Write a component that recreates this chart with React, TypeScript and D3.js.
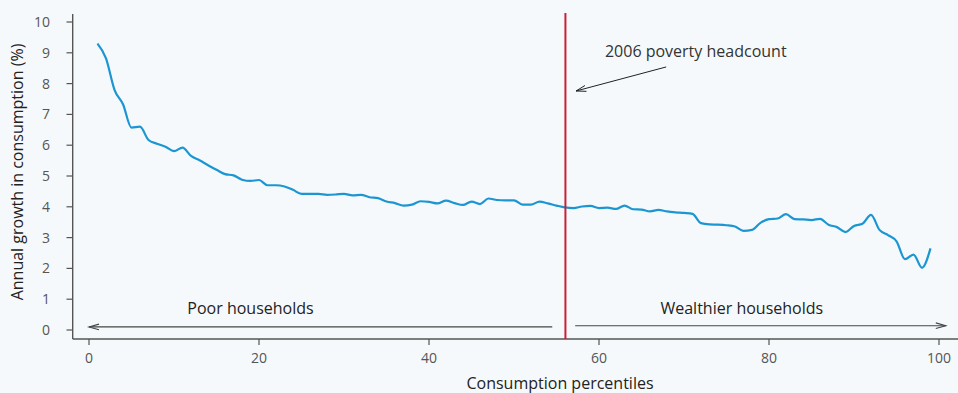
import React from "react";
import * as d3 from "d3";

const percentiles: number[] = d3.range(1, 100);
const growth: number[] = [
  9.30, 8.82, 7.80, 7.33, 6.57, 6.60, 6.17, 6.05, 5.95, 5.81,
  5.92, 5.65, 5.51, 5.35, 5.20, 5.06, 5.02, 4.88, 4.84, 4.87,
  4.70, 4.70, 4.66, 4.55, 4.42, 4.42, 4.42, 4.39, 4.40, 4.42,
  4.37, 4.39, 4.31, 4.28, 4.17, 4.12, 4.04, 4.07, 4.18, 4.16,
  4.11, 4.20, 4.12, 4.06, 4.17, 4.09, 4.27, 4.22, 4.21, 4.21,
  4.07, 4.07, 4.17, 4.11, 4.04, 3.98, 3.96, 4.01, 4.03, 3.96,
  3.97, 3.93, 4.04, 3.92, 3.91, 3.85, 3.90, 3.85, 3.82, 3.80,
  3.77, 3.47, 3.43, 3.42, 3.40, 3.36, 3.22, 3.25, 3.48, 3.60,
  3.62, 3.76, 3.60, 3.59, 3.57, 3.61, 3.42, 3.34, 3.18, 3.38,
  3.45, 3.74, 3.25, 3.08, 2.88, 2.30, 2.45, 2.02, 2.65,
];
const xTicks: number[] = [0, 20, 40, 60, 80, 100];
const yTicks: number[] = [0, 1, 2, 3, 4, 5, 6, 7, 8, 9, 10];
const povertyLine = 56.05;
const yTitle = "Annual growth in consumption (%)";
const xTitle = "Consumption percentiles";
const annotation = "2006 poverty headcount";
const leftLabel = "Poor households";
const rightLabel = "Wealthier households";

const W = 958;
const H = 393;
const FONT = "'Open Sans', 'Noto Sans', sans-serif";

function arrowHead(x1: number, y1: number, x2: number, y2: number, len = 10, half = 3) {
  const dx = x2 - x1, dy = y2 - y1;
  const L = Math.sqrt(dx * dx + dy * dy);
  const ux = dx / L, uy = dy / L;
  const bx = x2 - ux * len, by = y2 - uy * len;
  const px = -uy * half, py = ux * half;
  return `M${bx + px},${by + py}L${x2},${y2}L${bx - px},${by - py}`;
}

export default function App() {
  const x = d3.scaleLinear().domain([0, 100]).range([89, 939]);
  const y = d3.scaleLinear().domain([0, 10]).range([330, 22]);
  const axisX = 72.7;
  const axisY = 339;

  const line = d3
    .line<number>()
    .x((_, i) => x(percentiles[i]))
    .y((d) => y(d))
    .curve(d3.curveMonotoneX);

  const la = { x1: x(54.5), x2: x(0), y: y(0.1) };
  const ra = { x1: x(57.2), x2: x(100.8), y: y(0.14) };
  const an = { x1: x(67.9), y1: y(8.54), x2: x(57.3), y2: y(7.76) };

  return (
    <svg
      width={W}
      height={H}
      style={{ position: "absolute", left: 0, top: 0, background: "#f6f9fb" }}
      fontFamily={FONT}
    >
      <rect x={0} y={0} width={W} height={H} fill="#f6f9fb" />
      {/* axes */}
      <line x1={axisX} x2={axisX} y1={14} y2={axisY} stroke="#555" strokeWidth={1.4} />
      <line x1={axisX} x2={W} y1={axisY} y2={axisY} stroke="#555" strokeWidth={1.4} />
      {yTicks.map((t) => (
        <g key={"y" + t}>
          <line x1={66.5} x2={axisX} y1={y(t)} y2={y(t)} stroke="#555" strokeWidth={1.2} />
          <text x={50} y={y(t)} dy="0.36em" textAnchor="end" fontSize={14} fill="#555">
            {t}
          </text>
        </g>
      ))}
      {xTicks.map((t) => (
        <g key={"x" + t}>
          <line x1={x(t)} x2={x(t)} y1={axisY} y2={axisY + 6} stroke="#555" strokeWidth={1.2} />
          <text x={x(t)} y={363} textAnchor="middle" fontSize={14} fill="#555">
            {t}
          </text>
        </g>
      ))}
      <text
        transform={`translate(23,172) rotate(-90)`}
        textAnchor="middle"
        fontSize={16}
        fill="#222"
      >
        {yTitle}
      </text>
      <text x={560} y={389} textAnchor="middle" fontSize={16} fill="#222">
        {xTitle}
      </text>

      {/* data line */}
      <path d={line(growth) || ""} fill="none" stroke="#1b96d2" strokeWidth={2.2} strokeLinejoin="round" />

      {/* poverty line */}
      <line x1={x(povertyLine)} x2={x(povertyLine)} y1={13} y2={axisY} stroke="#c8203a" strokeWidth={2} />

      {/* household arrows */}
      <line x1={la.x1} x2={la.x2} y1={la.y} y2={la.y} stroke="#444" strokeWidth={1.1} />
      <path d={arrowHead(la.x1, la.y, la.x2, la.y, 10, 2.8)} fill="none" stroke="#444" strokeWidth={1.1} />
      <line x1={ra.x1} x2={ra.x2} y1={ra.y} y2={ra.y} stroke="#444" strokeWidth={1.1} />
      <path d={arrowHead(ra.x1, ra.y, ra.x2, ra.y, 10, 2.8)} fill="none" stroke="#444" strokeWidth={1.1} />
      <text x={x(19)} y={314} textAnchor="middle" fontSize={16} fill="#222">
        {leftLabel}
      </text>
      <text x={x(76.8)} y={314} textAnchor="middle" fontSize={16} fill="#222">
        {rightLabel}
      </text>

      {/* annotation */}
      <text x={x(60.7)} y={y(8.86)} fontSize={16} fill="#333">
        {annotation}
      </text>
      <line x1={an.x1} y1={an.y1} x2={an.x2} y2={an.y2} stroke="#222" strokeWidth={1} />
      <path d={arrowHead(an.x1, an.y1, an.x2, an.y2, 10, 3)} fill="none" stroke="#222" strokeWidth={1} />
    </svg>
  );
}
